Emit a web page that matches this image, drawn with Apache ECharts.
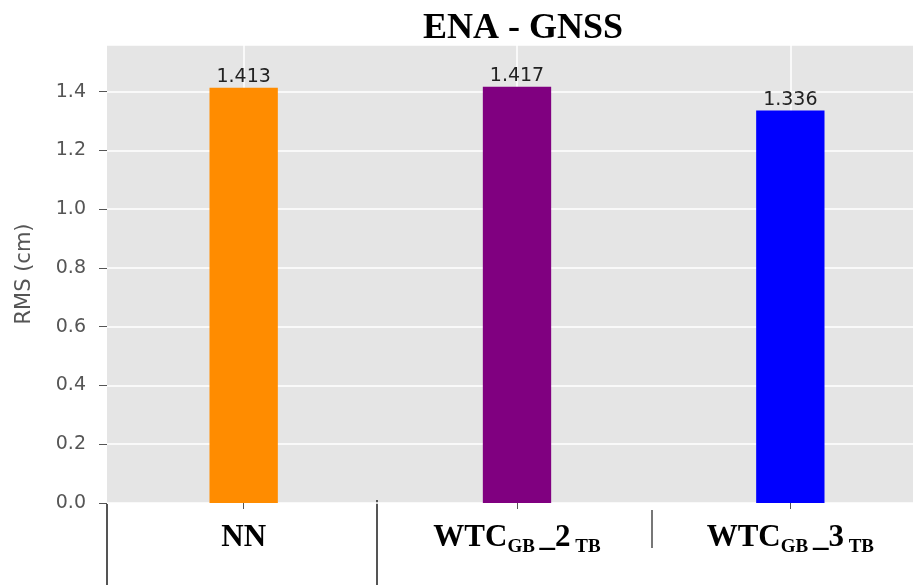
<!DOCTYPE html>
<html>
<head>
    <meta charset="utf-8">
    <title>ENA - GNSS</title>
    <script src="https://cdn.jsdelivr.net/npm/echarts@6/dist/echarts.min.js"></script>
    <style>
        html, body { margin: 0; padding: 0; background: #ffffff; }
        #main { width: 913px; height: 585px; }
    </style>
</head>
<body>
<div id="main"></div>
<script>
    // 数据
    var categories = ['NN', 'WTC_GB_2_TB', 'WTC_GB_3_TB'];
    var rmsValues = [1.413, 1.417, 1.336];
    var barColors = ['#ff8c00', '#800080', '#0000ff'];

    var chart = echarts.init(document.getElementById('main'));

    // 下标标签
    function catLabel(v) {
        if (v === 'NN') return '{a|NN}';
        var p = v.split('_');
        return '{a|' + p[0] + '}{s|' + p[1] + ' }{a|_' + p[2] + '}{s| ' + p[3] + '}';
    }

    var option = {
        backgroundColor: '#ffffff',
        animation: false,
        title: {
            text: 'ENA - GNSS',
            left: 518,
            textAlign: 'center',
            top: 6,
            textStyle: {
                fontFamily: 'Liberation Serif',
                fontWeight: 'bold',
                fontSize: 36,
                color: '#000000'
            }
        },
        grid: {
            left: 107,
            width: 820,
            top: 45,
            bottom: 82,
            outerBoundsMode: 'none',
            containLabel: false,
            show: true,
            backgroundColor: '#e5e5e5',
            borderWidth: 0
        },
        xAxis: {
            type: 'category',
            data: categories,
            axisLine: {show: false},
            axisTick: {
                show: true,
                alignWithLabel: true,
                length: 6,
                lineStyle: {color: '#555555'}
            },
            splitLine: {
                show: true,
                alignWithLabel: true,
                lineStyle: {color: '#ffffff', width: 1.5}
            },
            axisLabel: {
                margin: 16,
                formatter: catLabel,
                rich: {
                    a: {
                        fontFamily: 'Liberation Serif',
                        fontWeight: 'bold',
                        fontSize: 31,
                        color: '#000000',
                        verticalAlign: 'bottom',
                        lineHeight: 34
                    },
                    s: {
                        fontFamily: 'Liberation Serif',
                        fontWeight: 'bold',
                        fontSize: 19,
                        color: '#000000',
                        verticalAlign: 'bottom',
                        lineHeight: 26,
                        padding: [0, 0, -4, 0]
                    }
                }
            }
        },
        yAxis: {
            type: 'value',
            min: 0,
            max: 1.5587,
            interval: 0.2,
            name: 'RMS (cm)',
            nameLocation: 'middle',
            nameGap: 72,
            nameTextStyle: {
                fontFamily: 'DejaVu Sans',
                fontSize: 21,
                color: '#555555'
            },
            axisLine: {show: false},
            axisTick: {
                show: true,
                length: 8,
                lineStyle: {color: '#555555'}
            },
            splitLine: {
                show: true,
                lineStyle: {color: '#ffffff', width: 1.5}
            },
            axisLabel: {
                margin: 21,
                fontFamily: 'DejaVu Sans',
                fontSize: 19,
                color: '#555555',
                showMaxLabel: false,
                formatter: function (v) { return v.toFixed(1); }
            }
        },
        series: [{
            type: 'bar',
            barWidth: '25%',
            data: rmsValues.map(function (v, i) {
                return {value: v, itemStyle: {color: barColors[i]}};
            }),
            label: {
                show: true,
                position: 'top',
                distance: 1,
                fontFamily: 'DejaVu Sans',
                fontSize: 19,
                color: '#222222',
                formatter: function (p) { return p.value.toFixed(3); }
            }
        }],
        // 图片下方的分隔线
        graphic: [
            {type: 'line', shape: {x1: 107, y1: 504, x2: 107, y2: 585}, style: {stroke: '#555555', lineWidth: 2}},
            {type: 'line', shape: {x1: 377, y1: 500, x2: 377, y2: 585}, style: {stroke: '#555555', lineWidth: 2}},
            {type: 'line', shape: {x1: 652, y1: 510, x2: 652, y2: 548}, style: {stroke: '#777777', lineWidth: 2}}
        ]
    };
    chart.setOption(option);

    window.onresize = function () {
        chart.resize();
    };
</script>
</body>
</html>
